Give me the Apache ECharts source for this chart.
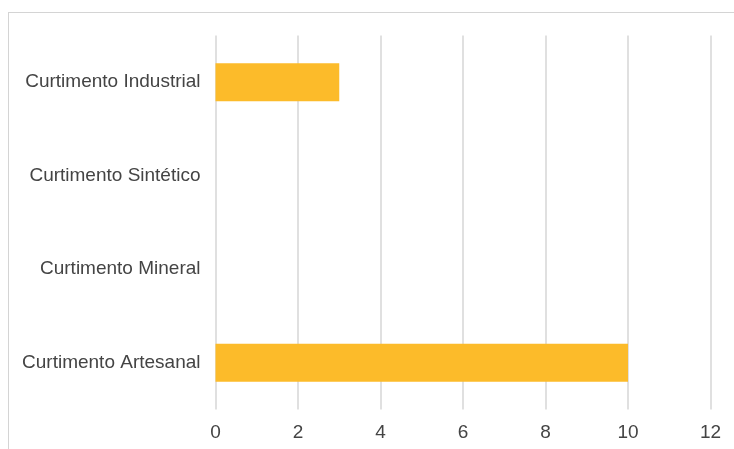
<!DOCTYPE html>
<html>
<head>
<meta charset="utf-8">
<script src="https://cdn.jsdelivr.net/npm/echarts@6/dist/echarts.min.js"></script>
<style>
html,body{margin:0;padding:0;background:#fff;}
#chart{width:734px;height:449px;}
</style>
</head>
<body>
<div id="chart"></div>
<script>
var categories = ['Curtimento Industrial', 'Curtimento Sintético', 'Curtimento Mineral', 'Curtimento Artesanal'];
var values = [3, 0, 0, 10];
var xTicks = [0, 2, 4, 6, 8, 10, 12];

var chart = echarts.init(document.getElementById('chart'), null, {renderer: 'canvas'});
chart.setOption({
  animation: false,
  backgroundColor: '#fff',
  graphic: [
    {type: 'line', shape: {x1: 8, y1: 12.5, x2: 734, y2: 12.5}, style: {stroke: '#d4d4d4', lineWidth: 1}},
    {type: 'line', shape: {x1: 8.5, y1: 12, x2: 8.5, y2: 449}, style: {stroke: '#d4d4d4', lineWidth: 1}}
  ],
  grid: {left: 215.5, right: 23.5, top: 35.5, bottom: 39.5, containLabel: false},
  xAxis: {
    type: 'value', min: xTicks[0], max: xTicks[xTicks.length - 1], interval: 2,
    axisLine: {show: false}, axisTick: {show: false},
    splitLine: {lineStyle: {color: '#d6d6d6', width: 1.5}},
    axisLabel: {color: '#444', fontSize: 19, fontFamily: 'Liberation Sans, Arial, sans-serif', margin: 14}
  },
  yAxis: {
    type: 'category', inverse: true, data: categories,
    axisLine: {show: false}, axisTick: {show: false},
    axisLabel: {color: '#444', fontSize: 19, fontFamily: 'Liberation Sans, Arial, sans-serif', margin: 15}
  },
  series: [{
    type: 'bar', data: values, barWidth: 38,
    itemStyle: {color: '#fcbb2a'}
  }]
});
</script>
</body>
</html>
